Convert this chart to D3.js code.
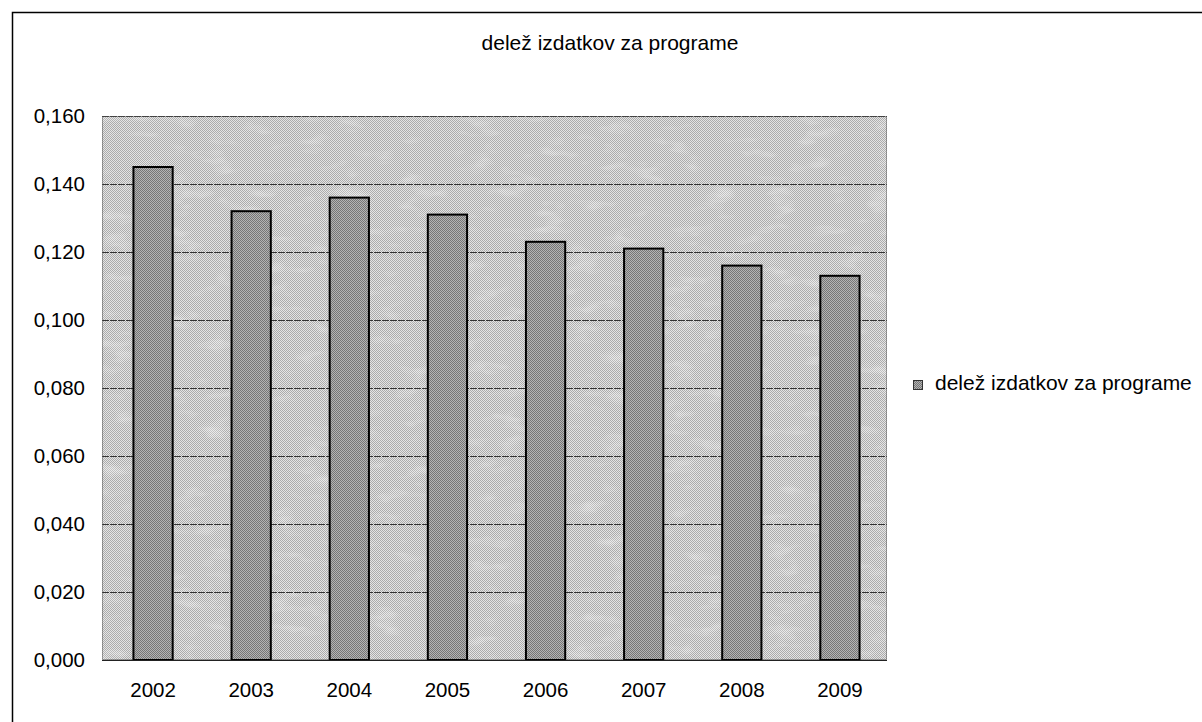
<!DOCTYPE html>
<html><head><meta charset="utf-8">
<script src="https://cdn.jsdelivr.net/npm/d3@7"></script>
<style>body{margin:0;background:#fff}svg{display:block;font-family:"Liberation Sans",Arial,sans-serif}</style>
</head><body>
<script>
const title = "delež izdatkov za programe";
const seriesName = "delež izdatkov za programe";
const years = ["2002","2003","2004","2005","2006","2007","2008","2009"];
const values = [0.145, 0.132, 0.136, 0.131, 0.123, 0.121, 0.116, 0.113];
const yTicks = [0, 0.02, 0.04, 0.06, 0.08, 0.10, 0.12, 0.14, 0.16];

const W = 1202, H = 722;
const FONT = "Liberation Sans, Arial, sans-serif";
const svg = d3.select("body").append("svg").attr("width", W).attr("height", H);
const defs = svg.append("defs");

function dither(id, c1, c2) {
  const p = defs.append("pattern").attr("id", id).attr("width", 2).attr("height", 2).attr("patternUnits", "userSpaceOnUse");
  p.append("rect").attr("width", 2).attr("height", 2).attr("fill", c1);
  p.append("rect").attr("width", 1).attr("height", 1).attr("fill", c2);
  p.append("rect").attr("x", 1).attr("y", 1).attr("width", 1).attr("height", 1).attr("fill", c2);
}
dither("bgPat", "#e4e4e4", "#ababab");
dither("barPat", "#b4b4b4", "#767676");

const f = defs.append("filter").attr("id", "noise").attr("x", 0).attr("y", 0).attr("width", "100%").attr("height", "100%");
f.append("feTurbulence").attr("type", "fractalNoise").attr("baseFrequency", "0.03 0.08").attr("numOctaves", 3).attr("seed", 4).attr("result", "t");
f.append("feColorMatrix").attr("type", "matrix").attr("values", "0 0 0 0 1  0 0 0 0 1  0 0 0 0 1  0 0 0 1.6 -0.9").attr("in", "t");

// outer frame
svg.append("path").attr("d", `M12.5,${H} V12.5 H${W}`).attr("fill", "none").attr("stroke", "#000").attr("stroke-width", 1.5);

const m = {l: 102, r: 887, t: 116, b: 660};
const x = d3.scaleBand().domain(years).range([m.l + 2, m.r + 2]).paddingInner(0.6).paddingOuter(0.3);
const y = d3.scaleLinear().domain([0, 0.16]).range([m.b, m.t]);

svg.append("rect").attr("x", m.l).attr("y", m.t).attr("width", m.r - m.l).attr("height", m.b - m.t).attr("fill", "url(#bgPat)");
svg.append("rect").attr("x", m.l).attr("y", m.t).attr("width", m.r - m.l).attr("height", m.b - m.t).attr("fill", "#fff").attr("filter", "url(#noise)").attr("opacity", 0.55);

// gridlines
svg.append("g").selectAll("line").data(yTicks.slice(1)).join("line")
  .attr("x1", m.l).attr("x2", m.r).attr("y1", d => Math.round(y(d)) + 0.5).attr("y2", d => Math.round(y(d)) + 0.5)
  .attr("stroke", "#333").attr("stroke-width", 1).attr("stroke-dasharray", "7,1");

// plot border (dotted look)
svg.append("rect").attr("x", m.l + 0.5).attr("y", m.t + 0.5).attr("width", m.r - m.l - 1).attr("height", m.b - m.t - 1)
  .attr("fill", "none").attr("stroke", "#555").attr("stroke-dasharray", "1,1");

// bars
svg.append("g").selectAll("rect").data(values).join("rect")
  .attr("x", (d, i) => x(years[i])).attr("y", d => y(d))
  .attr("width", x.bandwidth()).attr("height", d => y(0) - y(d))
  .attr("fill", "url(#barPat)").attr("stroke", "#000").attr("stroke-width", 2);

// baseline
svg.append("line").attr("x1", m.l).attr("x2", m.r).attr("y1", m.b + 0.5).attr("y2", m.b + 0.5).attr("stroke", "#222");

// y axis labels
const yAxis = d3.axisLeft(y).tickValues(yTicks).tickSize(0).tickPadding(17)
  .tickFormat(d => d3.format(".3f")(d).replace(".", ","));
const ga = svg.append("g").attr("transform", `translate(${m.l},0)`).call(yAxis);
ga.select(".domain").remove();
ga.selectAll("text").attr("font-size", 20.5).attr("fill", "#000").attr("font-family", FONT);

// x axis labels
const xAxis = d3.axisBottom(x).tickSize(0).tickPadding(22);
const gx = svg.append("g").attr("transform", `translate(0,${m.b})`).call(xAxis);
gx.select(".domain").remove();
gx.selectAll("text").attr("font-size", 20.5).attr("fill", "#000").attr("font-family", FONT);

// title
svg.append("text").attr("x", 610).attr("y", 50).attr("text-anchor", "middle").attr("font-size", 21).attr("font-family", FONT).text(title);

// legend
const lg = svg.append("g").attr("transform", "translate(913,380)");
lg.append("rect").attr("x", 0.5).attr("y", 0.5).attr("width", 9).attr("height", 9).attr("fill", "url(#barPat)").attr("stroke", "#333");
lg.append("text").attr("x", 22).attr("y", 9.5).attr("font-size", 21).attr("font-family", FONT).text(seriesName);
</script>
</body></html>
